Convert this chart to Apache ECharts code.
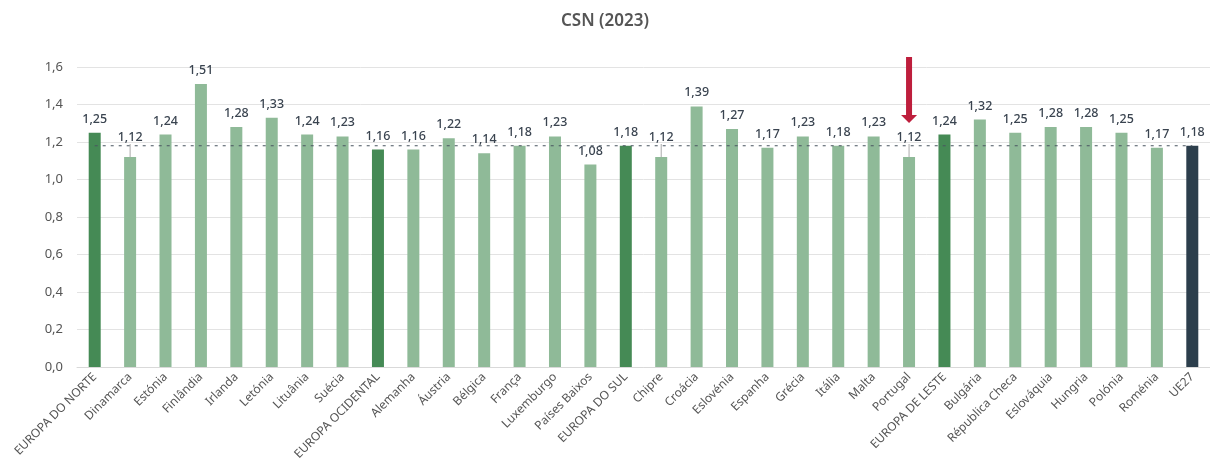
<!DOCTYPE html>
<html>
<head>
<meta charset="utf-8">
<script src="https://cdn.jsdelivr.net/npm/echarts@6/dist/echarts.min.js"></script>
<style>
  html, body { margin: 0; padding: 0; background: #fff; }
  #chart { width: 1210px; height: 476px; }
</style>
</head>
<body>
<div id="chart"></div>
<script>
const categories = [
  'EUROPA DO NORTE', 'Dinamarca', 'Estónia', 'Finlândia', 'Irlanda', 'Letónia', 'Lituânia', 'Suécia',
  'EUROPA OCIDENTAL', 'Alemanha', 'Áustria', 'Bélgica', 'França', 'Luxemburgo', 'Países Baixos',
  'EUROPA DO SUL', 'Chipre', 'Croácia', 'Eslovénia', 'Espanha', 'Grécia', 'Itália', 'Malta', 'Portugal',
  'EUROPA DE LESTE', 'Bulgária', 'Républica Checa', 'Eslováquia', 'Hungria', 'Polónia', 'Roménia',
  'UE27'
]
const values = [
  1.25, 1.12, 1.24, 1.51, 1.28, 1.33, 1.24, 1.23,
  1.16, 1.16, 1.22, 1.14, 1.18, 1.23, 1.08,
  1.18, 1.12, 1.39, 1.27, 1.17, 1.23, 1.18, 1.23, 1.12,
  1.24, 1.32, 1.25, 1.28, 1.28, 1.25, 1.17,
  1.18
]
const regions = ['EUROPA DO NORTE', 'EUROPA OCIDENTAL', 'EUROPA DO SUL', 'EUROPA DE LESTE']
const total = 'UE27'
const highlight = 'Portugal'
// labels pushed up with a leader line
const liftedLabels = ['Dinamarca', 'Chipre', 'Portugal']
const yTicks = { min: 0, max: 1.6, interval: 0.2 }

const euAvg = values[categories.indexOf(total)]
const avgLine = categories.map(() => euAvg)

const FONT = 'Noto Sans'
const fmt = (v, d) => v.toFixed(d).replace('.', ',')

function barColor(name) {
  if (name === total) return '#2c3e4c'
  if (regions.includes(name)) return '#458a55'
  return '#8fba98'
}

const chart = echarts.init(document.getElementById('chart'))

chart.setOption({
  animation: false,
  title: {
    text: 'CSN (2023)',
    left: 'center',
    top: 8,
    textStyle: { fontFamily: FONT, fontSize: 17, fontWeight: 600, color: '#555' },
  },
  grid: { left: 77, top: 67, width: 1138, bottom: 109 },
  xAxis: {
    type: 'category',
    data: categories,
    axisTick: { show: false },
    axisLine: { lineStyle: { color: '#d9d9d9' } },
    axisLabel: {
      interval: 0, rotate: 45, margin: 8,
      fontFamily: FONT, fontSize: 12, color: '#555',
    },
  },
  yAxis: {
    type: 'value',
    min: yTicks.min, max: yTicks.max, interval: yTicks.interval,
    axisLine: { show: false },
    axisTick: { show: false },
    splitLine: { lineStyle: { color: '#e3e3e3', width: 1 } },
    axisLabel: {
      margin: 14,
      fontFamily: FONT, fontSize: 13, color: '#555',
      formatter: (v) => fmt(v, 1),
    },
  },
  series: [
    {
      type: 'bar',
      barWidth: 12,
      data: values.map((v, i) => ({
        value: v,
        itemStyle: { color: barColor(categories[i]) },
        labelLine: { show: liftedLabels.includes(categories[i]) },
      })),
      label: {
        show: true,
        position: 'top',
        distance: 7,
        fontFamily: FONT, fontSize: 12.5, fontWeight: 500, color: '#3a4450',
        formatter: (p) => fmt(p.value, 2),
      },
      labelLine: { show: false, lineStyle: { color: '#aaa', width: 1 } },
      labelLayout: (p) => liftedLabels.includes(categories[p.dataIndex]) ? { dy: -6 } : {},
      markPoint: {
        silent: true,
        symbol: 'path://M5,0 L11,0 L11,58 L16,58 L8,66 L0,58 L5,58 Z',
        symbolSize: [16, 66],
        symbolKeepAspect: false,
        itemStyle: { color: '#be1e3c' },
        label: { show: false },
        data: [{ coord: [highlight, yTicks.max], symbolOffset: [0, 23] }],
      },
    },
    {
      type: 'line',
      data: avgLine,
      symbol: 'none',
      silent: true,
      z: 5,
      lineStyle: { color: '#4a5560', width: 1.2, type: [3, 5] },
    },
  ],
})
</script>
</body>
</html>
